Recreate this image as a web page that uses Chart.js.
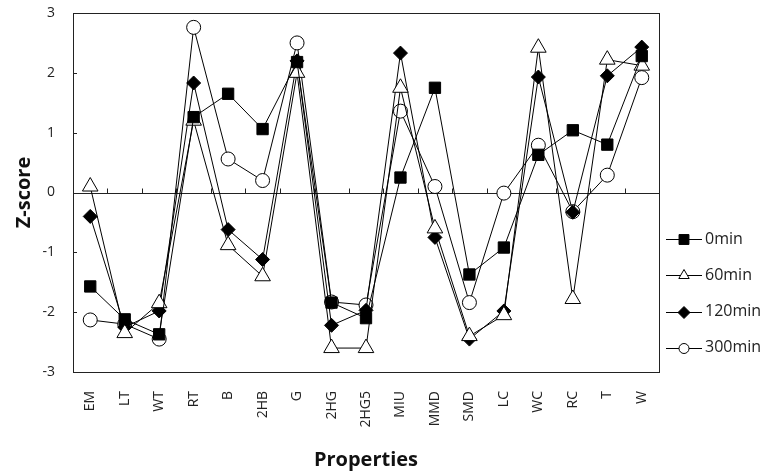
<!DOCTYPE html>
<html>
<head>
<meta charset="utf-8">
<script src="https://cdn.jsdelivr.net/npm/chart.js@4"></script>
<style>
  html, body { margin: 0; padding: 0; background: #fff; }
  #wrap { width: 762px; height: 472px; }
</style>
</head>
<body>
<div id="wrap"><canvas id="chart" width="762" height="472"></canvas></div>
<script>
// Categories and z-scores
const properties = ['EM', 'LT', 'WT', 'RT', 'B', '2HB', 'G', '2HG', '2HG5', 'MIU', 'MMD', 'SMD', 'LC', 'WC', 'RC', 'T', 'W'];
const min0 = [-1.57, -2.12, -2.37, 1.26, 1.65, 1.06, 2.18, -1.84, -2.1, 0.25, 1.75, -1.37, -0.92, 0.63, 1.04, 0.8, 2.28];
const min60 = [0.1, -2.35, -1.85, 1.2, -0.88, -1.4, 2.0, -2.6, -2.6, 1.75, -0.6, -2.4, -2.05, 2.42, -1.78, 2.22, 2.12];
const min120 = [-0.4, -2.25, -1.98, 1.83, -0.62, -1.12, 2.2, -2.22, -1.97, 2.33, -0.75, -2.45, -1.98, 1.93, -0.33, 1.95, 2.43];
const min300 = [-2.13, -2.2, -2.45, 2.76, 0.56, 0.2, 2.5, -1.83, -1.88, 1.36, 0.1, -1.84, -0.01, 0.79, -0.32, 0.29, 1.92];
const yTicks = [-3, -2, -1, 0, 1, 2, 3];

const FONT = '"Open Sans", "Noto Sans", sans-serif';

function series(label, data, style, radius, fill) {
    return {
        label: label,
        data: data,
        borderColor: '#000',
        borderWidth: 1,
        pointStyle: style,
        pointRadius: radius,
        pointHoverRadius: radius,
        pointBackgroundColor: fill,
        pointBorderColor: '#000',
        pointBorderWidth: 1,
        tension: 0,
        fill: false
    };
}

// Frame, zero axis with category ticks, inner y ticks and the legend
const decorations = {
    id: 'decorations',
    beforeDatasetsDraw(chart) {
        const { ctx, chartArea: a, scales: { x, y } } = chart;
        ctx.save();
        ctx.strokeStyle = '#222';
        ctx.lineWidth = 1;
        ctx.strokeRect(Math.round(a.left) + 0.5, Math.round(a.top) + 0.5,
            Math.round(a.right - a.left), Math.round(a.bottom - a.top));
        const y0 = Math.round(y.getPixelForValue(0)) + 0.5;
        ctx.beginPath();
        ctx.moveTo(a.left, y0);
        ctx.lineTo(a.right, y0);
        const step = x.getPixelForValue(1) - x.getPixelForValue(0);
        for (let i = 1; i < properties.length; i++) {
            const px = Math.round(x.getPixelForValue(i) - step / 2) + 0.5;
            ctx.moveTo(px, y0);
            ctx.lineTo(px, y0 - 5);
        }
        yTicks.forEach(v => {
            const py = Math.round(y.getPixelForValue(v)) + 0.5;
            ctx.moveTo(a.left, py);
            ctx.lineTo(a.left + 4, py);
        });
        ctx.stroke();
        ctx.restore();
    },
    afterDraw(chart) {
        const { ctx, chartArea: a } = chart;
        const legendRadius = [7, 6, 6, 5];
        ctx.save();
        ctx.font = '16px ' + FONT;
        ctx.textBaseline = 'middle';
        chart.data.datasets.forEach((ds, i) => {
            const ly = 239 + i * 36.3;
            const x1 = a.right + 7, x2 = a.right + 43, xm = (x1 + x2) / 2;
            ctx.strokeStyle = '#000';
            ctx.lineWidth = 1;
            ctx.beginPath();
            ctx.moveTo(x1, Math.round(ly) + 0.5);
            ctx.lineTo(x2, Math.round(ly) + 0.5);
            ctx.stroke();
            ctx.fillStyle = ds.pointBackgroundColor;
            Chart.helpers.drawPoint(ctx, {
                pointStyle: ds.pointStyle,
                radius: legendRadius[i],
                borderWidth: 1,
                rotation: 0
            }, xm, Math.round(ly) + 0.5);
            ctx.fillStyle = '#222';
            ctx.fillText(ds.label, x2 + 3, ly);
        });
        ctx.restore();
    }
};

new Chart(document.getElementById('chart'), {
    type: 'line',
    data: {
        labels: properties,
        datasets: [
            series('0min', min0, 'rect', 8, '#000'),
            series('60min', min60, 'triangle', 9, '#fff'),
            series('120min', min120, 'rectRot', 7, '#000'),
            series('300min', min300, 'circle', 7, '#fff')
        ]
    },
    options: {
        responsive: false,
        animation: false,
        layout: {
            padding: { left: 0, top: 13, right: 103, bottom: 0 }
        },
        plugins: {
            legend: { display: false },
            tooltip: { enabled: false }
        },
        scales: {
            x: {
                offset: true,
                grid: { display: false, drawTicks: false, offset: true },
                border: { display: false },
                ticks: {
                    autoSkip: false,
                    minRotation: 90,
                    maxRotation: 90,
                    padding: 19,
                    color: '#222',
                    font: { family: FONT, size: 14 }
                },
                title: {
                    display: true,
                    text: 'Properties',
                    color: '#111',
                    padding: { top: 0, bottom: 0 },
                    font: { family: FONT, size: 20, weight: 'bold' }
                },
                afterFit(scale) {
                    scale.height = 100;
                    scale.paddingLeft = 0;
                    scale.paddingRight = 0;
                }
            },
            y: {
                min: -3,
                max: 3,
                grid: { display: false, drawTicks: false },
                border: { display: false },
                afterBuildTicks(scale) { scale.ticks = yTicks.map(v => ({ value: v })); },
                ticks: {
                    padding: 18,
                    color: '#222',
                    font: { family: FONT, size: 14 }
                },
                title: {
                    display: true,
                    text: 'Z-score',
                    color: '#111',
                    padding: { top: 12, bottom: 0 },
                    font: { family: FONT, size: 20, weight: 'bold' }
                },
                afterFit(scale) {
                    scale.width = 73;
                    scale.paddingTop = 0;
                    scale.paddingBottom = 0;
                }
            }
        }
    },
    plugins: [decorations]
});
</script>
</body>
</html>
